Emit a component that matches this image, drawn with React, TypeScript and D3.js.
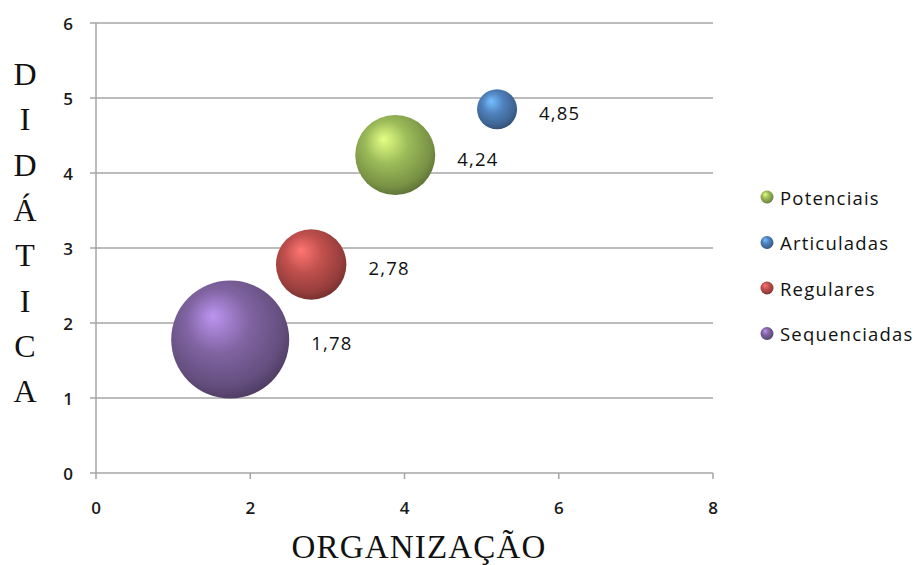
import * as d3 from "d3";

const WIDTH = 920;
const HEIGHT = 565;
const MARGIN = { top: 23, right: 207, bottom: 92, left: 96 };

const seriesNames = ["Potenciais", "Articuladas", "Regulares", "Sequenciadas"];
const xValues = [3.88, 5.2, 2.79, 1.74];
const yValues = [4.24, 4.85, 2.78, 1.78];
const bubbleSizes = [4, 1, 3.1, 8.7];
const dataLabels = ["4,24", "4,85", "2,78", "1,78"];
const colors = ["#9bbb59", "#4f81bd", "#c0504d", "#8064a2"];

const xTicks = [0, 2, 4, 6, 8];
const yTicks = [0, 1, 2, 3, 4, 5, 6];
const yTitle = "DIDÁTICA";
const xTitle = "ORGANIZAÇÃO";

const LABEL_FONT = "'Open Sans', sans-serif";
const TITLE_FONT = "'Liberation Serif', 'DejaVu Serif', serif";

export default function App() {
  const innerW = WIDTH - MARGIN.left - MARGIN.right;
  const innerH = HEIGHT - MARGIN.top - MARGIN.bottom;

  const x = d3.scaleLinear().domain([0, 8]).range([0, innerW]);
  const y = d3.scaleLinear().domain([0, 6]).range([innerH, 0]);
  const r = d3.scaleSqrt().domain([0, d3.max(bubbleSizes) as number]).range([0, 59]);

  const bubbles = seriesNames.map((name, i) => ({
    name,
    cx: x(xValues[i]),
    cy: y(yValues[i]),
    r: r(bubbleSizes[i]),
    label: dataLabels[i],
    color: colors[i],
  }));

  // big ones drawn first so small ones stay on top
  const drawOrder = [...bubbles].sort((a, b) => b.r - a.r);

  return (
    <svg
      width={WIDTH}
      height={HEIGHT}
      style={{ position: "absolute", left: 0, top: 0, background: "#fff" }}
    >
      <defs>
        {colors.map((c, i) => (
          <radialGradient key={i} id={`sphere-${i}`} cx="0.45" cy="0.4" r="0.6" fx="0.35" fy="0.3">
            <stop offset="0%" stopColor={d3.color(c)!.brighter(1.1).formatHex()} />
            <stop offset="45%" stopColor={c} />
            <stop offset="85%" stopColor={d3.color(c)!.darker(0.7).formatHex()} />
            <stop offset="100%" stopColor={d3.color(c)!.darker(1.3).formatHex()} />
          </radialGradient>
        ))}
      </defs>

      <g transform={`translate(${MARGIN.left},${MARGIN.top})`}>
        {yTicks.map((t) => (
          <g key={t}>
            <line x1={-6} x2={innerW} y1={y(t)} y2={y(t)} stroke="#a6a6a6" strokeWidth={1.5} />
            <text
              x={-23}
              y={y(t)}
              textAnchor="end"
              dominantBaseline="central"
              fontFamily={LABEL_FONT}
              fontSize={17}
              fontWeight={600}
              fill="#1a1a1a"
            >
              {t}
            </text>
          </g>
        ))}
        <line x1={0} x2={0} y1={0} y2={innerH} stroke="#a6a6a6" strokeWidth={1.5} />
        {xTicks.map((t) => (
          <g key={t}>
            <line x1={x(t)} x2={x(t)} y1={innerH} y2={innerH + 6} stroke="#a6a6a6" strokeWidth={1.5} />
            <text
              x={x(t)}
              y={innerH + 34}
              dominantBaseline="central"
              textAnchor="middle"
              fontFamily={LABEL_FONT}
              fontSize={17}
              fontWeight={600}
              fill="#1a1a1a"
            >
              {t}
            </text>
          </g>
        ))}

        {drawOrder.map((b) => {
          const i = seriesNames.indexOf(b.name);
          return (
            <g key={b.name}>
              <circle cx={b.cx} cy={b.cy} r={b.r} fill={`url(#sphere-${i})`} />
              <text
                x={b.cx + b.r + 22}
                y={b.cy + 3}
                dominantBaseline="central"
                fontFamily={LABEL_FONT}
                fontSize={18.5}
                letterSpacing={1.2}
                fill="#111"
              >
                {b.label}
              </text>
            </g>
          );
        })}
      </g>

      {/* y title, one letter per line */}
      {yTitle.split("").map((ch, i) => (
        <text
          key={i}
          x={25}
          y={85 + i * 45.3}
          textAnchor="middle"
          fontFamily={TITLE_FONT}
          fontSize={32}
          fill="#111"
        >
          {ch}
        </text>
      ))}
      <text
        x={419}
        y={558}
        textAnchor="middle"
        fontFamily={TITLE_FONT}
        fontSize={33}
        letterSpacing={1.2}
        fill="#111"
      >
        {xTitle}
      </text>

      {/* legend */}
      {seriesNames.map((name, i) => (
        <g key={name} transform={`translate(767,${197 + i * 45.5})`}>
          <circle r={6.5} fill={`url(#sphere-${i})`} />
          <text
            x={13}
            y={0}
            dominantBaseline="central"
            fontFamily={LABEL_FONT}
            fontSize={18.5}
            letterSpacing={1.2}
            fill="#111"
          >
            {name}
          </text>
        </g>
      ))}
    </svg>
  );
}
